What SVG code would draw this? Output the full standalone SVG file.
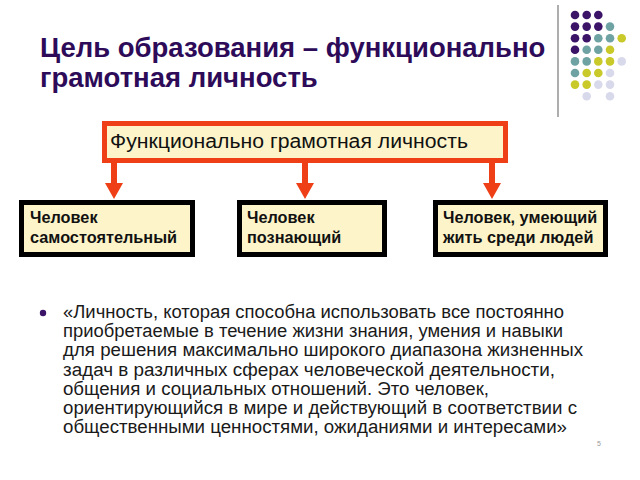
<svg xmlns="http://www.w3.org/2000/svg" width="640" height="480" viewBox="0 0 640 480">
<style>
.title{font-family:"Liberation Sans",Arial,sans-serif;font-weight:bold;font-size:27.5px;fill:#2d0b59}
.main{font-family:"Liberation Sans",Arial,sans-serif;font-size:20px;fill:#111}
.box{fill:#fdf5c9;stroke:#000;stroke-width:5}
.obox{fill:#fdf5c9;stroke:#ee3f16;stroke-width:5}
.btxt{font-family:"Liberation Sans",Arial,sans-serif;font-weight:bold;font-size:16.3px;fill:#111}
.body{font-family:"Liberation Sans",Arial,sans-serif;font-size:18px;fill:#1a1a1a}
.shaft{stroke:#ee3f16;stroke-width:6}
.head{fill:#ee3f16}
.p{fill:#3b1468}.t{fill:#6fa3a3}.y{fill:#c9c92a}.l{fill:#d9d9ec}
</style>
<rect width="640" height="480" fill="#fff"/>
<g id="decor">
<line x1="558" y1="5" x2="558" y2="117" stroke="#777" stroke-width="1.2"/>
<g>
<circle class="p" cx="575" cy="15" r="4.3"/><circle class="p" cx="586.7" cy="15" r="4.3"/><circle class="p" cx="598.3" cy="15" r="4.3"/>
<circle class="p" cx="575" cy="26.6" r="4.3"/><circle class="p" cx="586.7" cy="26.6" r="4.3"/><circle class="p" cx="598.3" cy="26.6" r="4.3"/><circle class="t" cx="610" cy="26.6" r="4.3"/>
<circle class="p" cx="575" cy="38.2" r="4.3"/><circle class="p" cx="586.7" cy="38.2" r="4.3"/><circle class="t" cx="598.3" cy="38.2" r="4.3"/><circle class="t" cx="610" cy="38.2" r="4.3"/><circle class="y" cx="621.7" cy="38.2" r="4.3"/>
<circle class="p" cx="575" cy="49.8" r="4.3"/><circle class="t" cx="586.7" cy="49.8" r="4.3"/><circle class="t" cx="598.3" cy="49.8" r="4.3"/><circle class="y" cx="610" cy="49.8" r="4.3"/>
<circle class="t" cx="575" cy="61.4" r="4.3"/><circle class="t" cx="586.7" cy="61.4" r="4.3"/><circle class="y" cx="598.3" cy="61.4" r="4.3"/><circle class="y" cx="610" cy="61.4" r="4.3"/><circle class="l" cx="621.7" cy="61.4" r="4.3"/>
<circle class="t" cx="575" cy="73" r="4.3"/><circle class="y" cx="586.7" cy="73" r="4.3"/><circle class="y" cx="598.3" cy="73" r="4.3"/><circle class="l" cx="610" cy="73" r="4.3"/>
<circle class="y" cx="575" cy="84.6" r="4.3"/><circle class="y" cx="586.7" cy="84.6" r="4.3"/><circle class="l" cx="598.3" cy="84.6" r="4.3"/><circle class="l" cx="610" cy="84.6" r="4.3"/>
<circle class="l" cx="586.7" cy="96.2" r="4.3"/><circle class="l" cx="610" cy="96.2" r="4.3"/>
</g>
</g>
<g id="title">
<text class="title" x="40" y="57">Цель образования – функционально</text>
<text class="title" x="40" y="87">грамотная личность</text>
</g>
<g id="connectors">
<line class="shaft" x1="114" y1="163" x2="114" y2="185"/><polygon class="head" points="105,183 123,183 114,199"/>
<line class="shaft" x1="305" y1="163" x2="305" y2="185"/><polygon class="head" points="296,183 314,183 305,199"/>
<line class="shaft" x1="492" y1="163" x2="492" y2="185"/><polygon class="head" points="483,183 501,183 492,199"/>
</g>
<g id="node-main">
<rect class="obox" x="104.5" y="123.5" width="401" height="37"/>
<text class="main" x="110" y="148" textLength="358" lengthAdjust="spacingAndGlyphs">Функционально грамотная личность</text>
</g>
<g id="node-1">
<rect class="box" x="21.5" y="202.5" width="171" height="52"/>
<text class="btxt" x="30" y="223">Человек</text>
<text class="btxt" x="30" y="243">самостоятельный</text>
</g>
<g id="node-2">
<rect class="box" x="239.5" y="202.5" width="145" height="52"/>
<text class="btxt" x="247" y="223">Человек</text>
<text class="btxt" x="247" y="243">познающий</text>
</g>
<g id="node-3">
<rect class="box" x="435.5" y="202.5" width="170" height="52"/>
<text class="btxt" x="443" y="223">Человек, умеющий</text>
<text class="btxt" x="443" y="243">жить среди людей</text>
</g>
<g id="quote">
<circle cx="43" cy="313" r="3.2" fill="#3b1468"/>
<text class="body" x="63" y="318" textLength="501" lengthAdjust="spacingAndGlyphs">«Личность, которая способна использовать все постоянно</text>
<text class="body" x="63" y="337.2" textLength="500" lengthAdjust="spacingAndGlyphs">приобретаемые в течение жизни знания, умения и навыки</text>
<text class="body" x="63" y="356.4" textLength="520" lengthAdjust="spacingAndGlyphs">для решения максимально широкого диапазона жизненных</text>
<text class="body" x="63" y="375.6" textLength="492" lengthAdjust="spacingAndGlyphs">задач в различных сферах человеческой деятельности,</text>
<text class="body" x="63" y="394.8" textLength="426" lengthAdjust="spacingAndGlyphs">общения и социальных отношений. Это человек,</text>
<text class="body" x="63" y="414" textLength="514" lengthAdjust="spacingAndGlyphs">ориентирующийся в мире и действующий в соответствии с</text>
<text class="body" x="63" y="433.2" textLength="504" lengthAdjust="spacingAndGlyphs">общественными ценностями, ожиданиями и интересами»</text>
<text x="597" y="446" font-family="Liberation Sans, Arial, sans-serif" font-size="7" fill="#999">5</text>
</g>
</svg>
